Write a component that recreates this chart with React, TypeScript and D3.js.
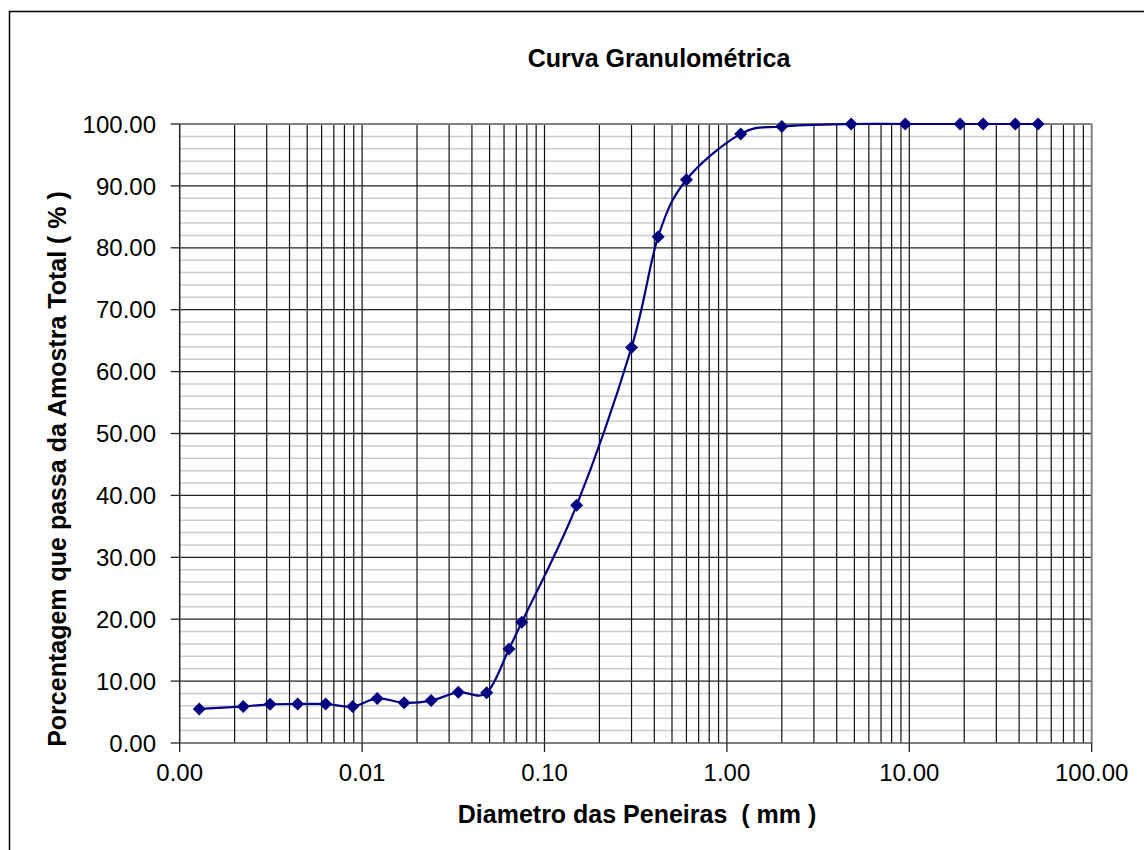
import React from "react";
import * as d3 from "d3";

const diameters = [0.00128, 0.00223, 0.00313, 0.00443, 0.00631, 0.00888, 0.0121, 0.017, 0.0239, 0.0337, 0.0482, 0.0639, 0.075, 0.15, 0.3, 0.42, 0.6, 1.19, 2.0, 4.8, 9.5, 19.0, 25.4, 38.1, 50.8];
const passing = [5.5, 5.9, 6.25, 6.3, 6.3, 5.9, 7.2, 6.5, 6.85, 8.2, 8.1, 15.2, 19.5, 38.4, 63.9, 81.8, 91.0, 98.4, 99.6, 100, 100, 100, 100, 100, 100];
const xTickValues = [0.001, 0.01, 0.1, 1, 10, 100];
const yTickValues = [0, 10, 20, 30, 40, 50, 60, 70, 80, 90, 100];
const title = "Curva Granulométrica";
const xTitle = "Diametro das Peneiras  ( mm )";
const yTitle = "Porcentagem que passa da Amostra Total ( % )";

const W = 1144, H = 850;
const L = 179.7, R = 1091.7, T = 124, B = 743;
const FONT = "'Liberation Sans', Arial, sans-serif";

export default function App() {
  const x = d3.scaleLog().domain([0.001, 100]).range([L, R]);
  const y = d3.scaleLinear().domain([0, 100]).range([B, T]);

  const minorX: number[] = [];
  for (let e = -3; e < 2; e++) {
    for (let m = 2; m <= 9; m++) minorX.push(m * Math.pow(10, e));
  }
  const minorY: number[] = d3.range(2, 100, 2).filter((v) => v % 10 !== 0);

  const pts: [number, number][] = diameters.map((d, i) => [x(d), y(passing[i])]);
  const line = d3.line().curve(d3.curveCardinal.tension(0))(pts) || "";

  const s = 6.5;
  const diamond = `M0,${-s}L${s},0L0,${s}L${-s},0Z`;

  return (
    <svg width={W} height={H} style={{ position: "absolute", left: 0, top: 0, background: "#fff" }}>
      <rect x={9.5} y={11.5} width={W + 20} height={H + 20} fill="#fff" stroke="#000" strokeWidth={1.5} />
      <text x={659} y={67} textAnchor="middle" fontFamily={FONT} fontWeight="bold" fontSize={25} fill="#000">
        {title}
      </text>
      {minorY.map((v) => (
        <line key={"my" + v} x1={L} x2={R} y1={y(v)} y2={y(v)} stroke="#cccccc" strokeWidth={1.5} />
      ))}
      {minorX.map((v, i) => (
        <line key={"mx" + i} x1={x(v)} x2={x(v)} y1={T} y2={B} stroke="#111" strokeWidth={1.2} />
      ))}
      {xTickValues.slice(1, -1).map((v) => (
        <line key={"Mx" + v} x1={x(v)} x2={x(v)} y1={T} y2={B} stroke="#111" strokeWidth={1.2} />
      ))}
      {yTickValues.slice(1, -1).map((v) => (
        <line key={"My" + v} x1={L} x2={R} y1={y(v)} y2={y(v)} stroke="#222" strokeWidth={1.3} />
      ))}
      <line x1={L} x2={R} y1={T} y2={T} stroke="#808080" strokeWidth={2} />
      <line x1={R} x2={R} y1={T} y2={B} stroke="#808080" strokeWidth={2} />
      <line x1={L} x2={L} y1={T} y2={B} stroke="#222" strokeWidth={1.5} />
      <line x1={L} x2={R} y1={B} y2={B} stroke="#555" strokeWidth={1.5} />
      {yTickValues.map((v) => (
        <g key={"yt" + v}>
          <line x1={L - 9} x2={L} y1={y(v)} y2={y(v)} stroke="#222" strokeWidth={1.3} />
          <text x={156} y={y(v) + 8.6} textAnchor="end" fontFamily={FONT} fontSize={24} fill="#000">
            {v.toFixed(2)}
          </text>
        </g>
      ))}
      {xTickValues.map((v) => (
        <g key={"xt" + v}>
          <line x1={x(v)} x2={x(v)} y1={B} y2={B + 9} stroke="#222" strokeWidth={1.3} />
          <text x={x(v)} y={781} textAnchor="middle" fontFamily={FONT} fontSize={24} fill="#000">
            {v.toFixed(2)}
          </text>
        </g>
      ))}
      <text
        x={637}
        y={823}
        textAnchor="middle"
        fontFamily={FONT}
        fontWeight="bold"
        fontSize={25}
        fill="#000"
        style={{ whiteSpace: "pre" }}
      >
        {xTitle}
      </text>
      <text
        transform={`translate(66,469) rotate(-90)`}
        textAnchor="middle"
        fontFamily={FONT}
        fontWeight="bold"
        fontSize={25}
        fill="#000"
      >
        {yTitle}
      </text>
      <path d={line} fill="none" stroke="#000080" strokeWidth={2.2} />
      {pts.map((p, i) => (
        <path key={"pt" + i} d={diamond} transform={`translate(${p[0]},${p[1]})`} fill="#000080" />
      ))}
    </svg>
  );
}
